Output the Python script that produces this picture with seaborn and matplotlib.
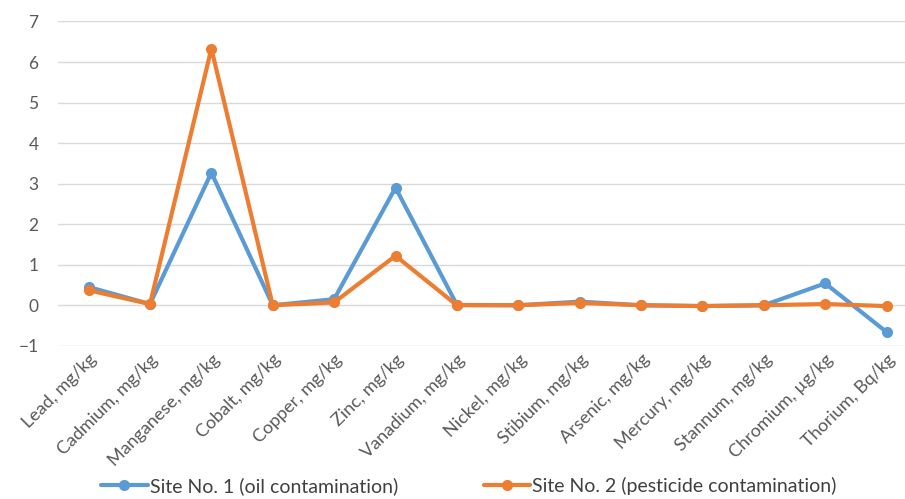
import pandas as pd
import numpy as np
import matplotlib
matplotlib.use("Agg")
import matplotlib.pyplot as plt
import seaborn as sns

elements = ["Lead, mg/kg", "Cadmium, mg/kg", "Manganese, mg/kg", "Cobalt, mg/kg",
            "Copper, mg/kg", "Zinc, mg/kg", "Vanadium, mg/kg", "Nickel, mg/kg",
            "Stibium, mg/kg", "Arsenic, mg/kg", "Mercury, mg/kg", "Stannum, mg/kg",
            "Chromium, µg/kg", "Thorium, Bq/kg"]
site1 = [0.45, 0.03, 3.27, 0.0, 0.15, 2.90, 0.01, 0.0, 0.09, 0.0, -0.02, 0.0, 0.54, -0.66]
site2 = [0.37, 0.03, 6.33, 0.0, 0.07, 1.22, 0.0, 0.0, 0.06, 0.0, -0.02, 0.0, 0.03, -0.02]
series_names = ["Site No. 1 (oil contamination)", "Site No. 2 (pesticide contamination)"]

sns.set_style("white")
plt.rcParams['font.family'] = ['Lato', 'DejaVu Sans']

df = pd.DataFrame({
    "pos": list(range(len(elements))) * 2,
    "value": site1 + site2,
    "series": [series_names[0]] * len(elements) + [series_names[1]] * len(elements),
})

fig = plt.figure(figsize=(9.05, 4.99), dpi=100)
ax = fig.add_axes([0.064, 0.307, 0.936, 0.65])

sns.lineplot(data=df, x="pos", y="value", hue="series",
             palette=["#5B9BD5", "#ED7D31"], marker="o", markersize=8,
             markeredgewidth=0, linewidth=3, ax=ax)

ax.set_xlim(-0.5, 13.3)
ax.set_ylim(-1, 7)
ax.set_yticks(range(-1, 8))
ax.yaxis.grid(True, color="#d9d9d9", linewidth=1)
ax.set_xticks(range(len(elements)))
ax.set_xticklabels(elements, rotation=45, ha="right", rotation_mode="anchor",
                   fontsize=13, color="#595959")
ax.tick_params(axis="y", labelsize=12.5, labelcolor="#595959", length=0, pad=14)
ax.tick_params(axis="x", length=0, pad=4)
ax.set_xlabel("")
ax.set_ylabel("")
for s in ax.spines.values():
    s.set_visible(False)

ax.legend(ncol=2, frameon=False, fontsize=14, handlelength=2.4,
          handletextpad=0.1, columnspacing=4.4, labelcolor="#404040",
          loc="lower center")
leg = ax.get_legend()
leg.set_bbox_to_anchor((0.518, -0.027), transform=fig.transFigure)

fig.savefig("out.png", dpi=100)
